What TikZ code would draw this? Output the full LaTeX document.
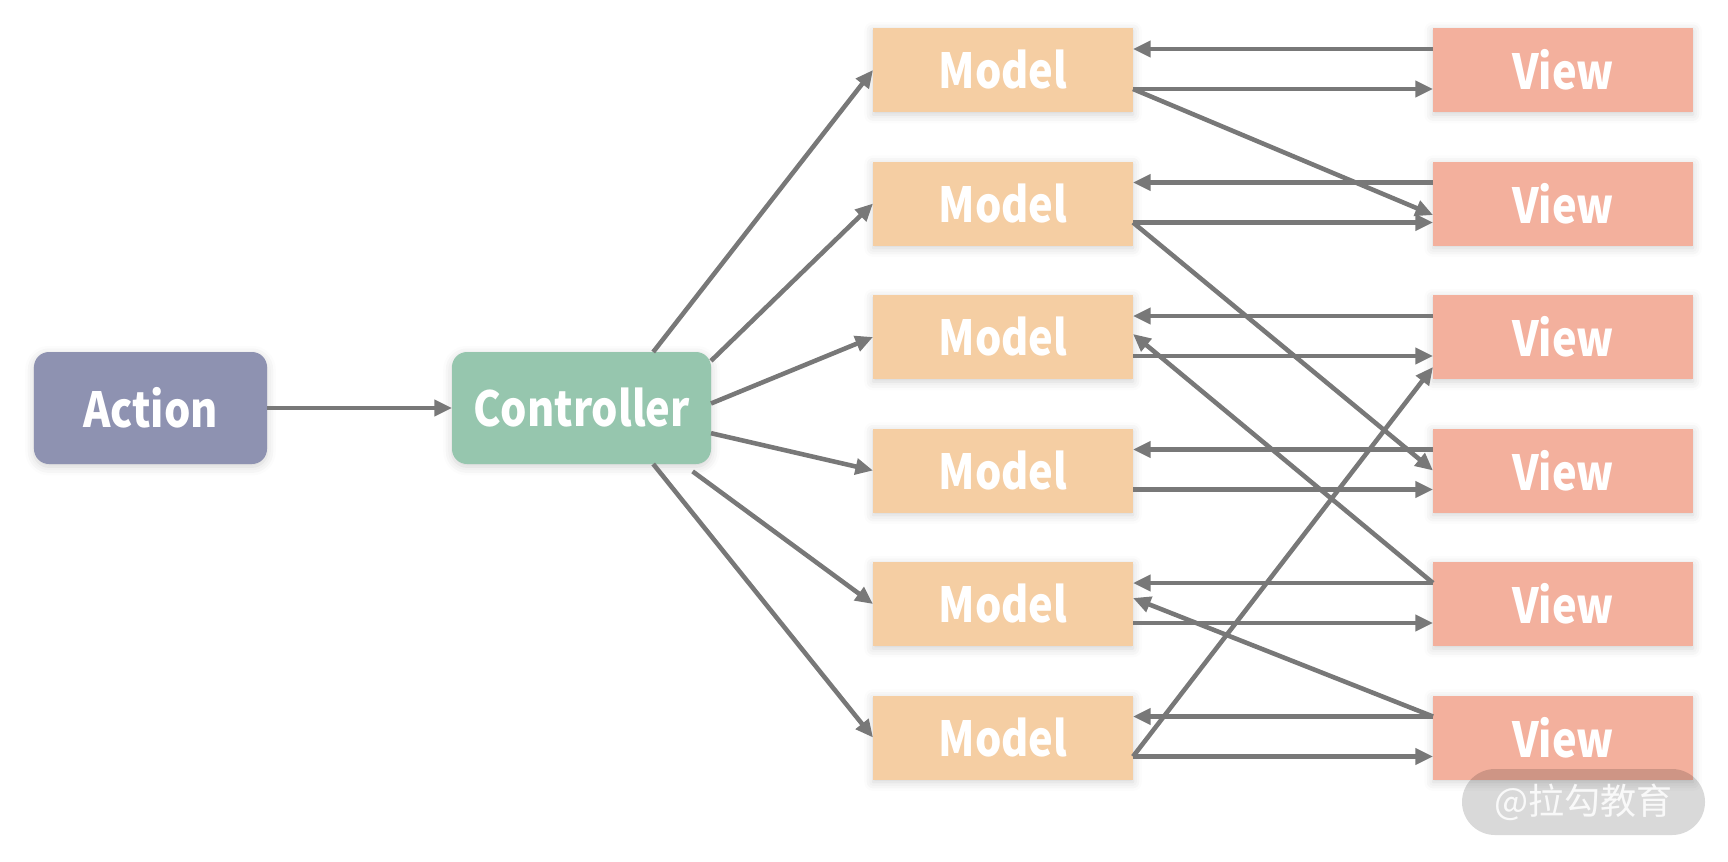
\documentclass[tikz,border=0pt]{standalone}
\usepackage{fontspec}
\setmainfont{Noto Sans CJK SC}
\newfontfamily\boxfont{Noto Sans CJK SC}[FakeStretch=0.86]
\usetikzlibrary{positioning,arrows.meta,shadows.blur}

\definecolor{actioncol}{RGB}{142,146,177}
\definecolor{ctrlcol}{RGB}{150,198,174}
\definecolor{modelcol}{RGB}{245,206,163}
\definecolor{viewcol}{RGB}{243,176,157}
\definecolor{linecol}{RGB}{120,120,120}

\tikzstyle{softshadow} = [blur shadow={shadow xshift=0pt, shadow yshift=-1.5pt, shadow opacity=18, shadow blur radius=5pt}]
\tikzstyle{actionbox} = [rectangle, rounded corners=0.3cm, minimum width=4.66cm, minimum height=2.24cm, text centered, fill=actioncol, text=white, font=\boxfont\fontsize{27.5}{30}\selectfont\bfseries, softshadow]
\tikzstyle{ctrlbox} = [rectangle, rounded corners=0.3cm, minimum width=5.18cm, minimum height=2.24cm, text centered, fill=ctrlcol, text=white, font=\boxfont\fontsize{27.5}{30}\selectfont\bfseries, softshadow]
\tikzstyle{modelbox} = [rectangle, minimum width=5.2cm, minimum height=1.68cm, text centered, fill=modelcol, text=white, font=\boxfont\fontsize{27.5}{30}\selectfont\bfseries, softshadow]
\tikzstyle{viewbox} = [rectangle, minimum width=5.2cm, minimum height=1.68cm, text centered, fill=viewcol, text=white, font=\boxfont\fontsize{27.5}{30}\selectfont\bfseries, softshadow]
\tikzstyle{arrow} = [line width=2.6pt, draw=linecol, -{Triangle[length=10pt,width=9pt]}]
\tikzstyle{watermark} = [rectangle, rounded corners=0.66cm, minimum width=4.86cm, minimum height=1.32cm, fill=black, fill opacity=0.15, text=white, text opacity=0.85, font=\fontsize{20.5}{24}\selectfont]

\begin{document}
\begin{tikzpicture}[node distance=0.99cm, outer sep=0pt]

\useasboundingbox (-3.01,8.16) rectangle (31.55,-9.06);

% Nodes
\node (action) [actionbox] at (0,0) {Action};
\node (ctrl) [ctrlbox, right=3.7cm of action] {Controller};
\node (m1) [modelbox] at (17.05,6.76) {Model};
\node (m2) [modelbox, below=of m1] {Model};
\node (m3) [modelbox, below=of m2] {Model};
\node (m4) [modelbox, below=of m3] {Model};
\node (m5) [modelbox, below=of m4] {Model};
\node (m6) [modelbox, below=of m5] {Model};
\foreach \i in {1,...,6}
  \node (v\i) [viewbox, right=6cm of m\i] {View};

% Arrows
\draw [arrow] (action) -- (ctrl);
\draw [arrow] (ctrl.38) -- (m1.west);
\draw [arrow] (ctrl.20) -- (m2.west);
\draw [arrow] (ctrl.2) -- (m3.west);
\draw [arrow] (ctrl.-11) -- (m4.west);
\draw [arrow, shorten <=0.25cm] (ctrl.-29) -- (m5.west);
\draw [arrow] (ctrl.-38) -- (m6.west);

\foreach \i in {1,...,6} {
  \draw [arrow] ([yshift=0.42cm]v\i.west) -- ([yshift=0.42cm]m\i.east);
  \draw [arrow] ([yshift=-0.38cm]m\i.east) -- ([yshift=-0.38cm]v\i.west);
}

\draw [arrow] ([yshift=-0.38cm]m1.east) -- ([yshift=-0.23cm]v2.west);
\draw [arrow] ([yshift=-0.38cm]m2.east) -- (v4.west);
\draw [arrow] ([yshift=0.42cm]v5.west) -- ([yshift=0.06cm]m3.east);
\draw [arrow] ([yshift=-0.38cm]m6.east) -- ([yshift=-0.6cm]v3.west);
\draw [arrow] ([yshift=0.42cm]v6.west) -- ([yshift=0.12cm]m5.east);

\node (wmk) [watermark] at (28.66,-7.88) {@拉勾教育};

\end{tikzpicture}
\end{document}
